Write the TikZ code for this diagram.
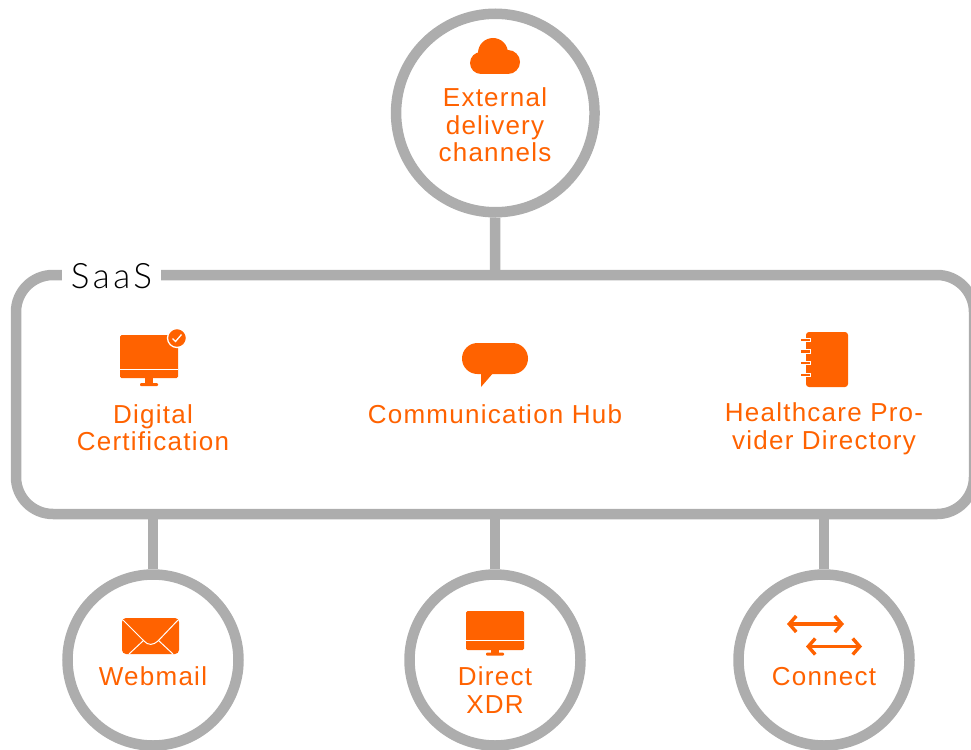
\documentclass[tikz,border=0pt]{standalone}
\usepackage{fontspec}
\setmainfont{Liberation Sans}
\newfontfamily\lightfont[LetterSpace=10]{Lato Light}
\usetikzlibrary{arrows.meta}
\definecolor{ora}{HTML}{FF6200}
\definecolor{gry}{HTML}{ADADAD}
\tikzset{
 ring/.style={circle,draw=gry,line width=10.5pt,fill=white,inner sep=0pt},
 link/.style={draw=gry,line width=10.5pt},
 lab/.style={text=ora,font=\fontsize{26}{27.5}\selectfont\addfontfeature{LetterSpace=4.8},align=center,inner sep=0pt},
 gap/.style={draw=white,line width=1pt},
 dbl/.style={draw=ora,line width=3.2pt,{Straight Barb[length=7pt,width=16pt,line width=3.4pt]}-{Straight Barb[length=7pt,width=16pt,line width=3.4pt]}}
}
\begin{document}
\begin{tikzpicture}[x=1pt,y=-1pt]
\useasboundingbox (0,0) rectangle (971,749);
\clip (0,0) rectangle (971,749);
% coordinates
\coordinate (boxtop) at (495,275);
\coordinate (boxbotL) at (153,514);
\coordinate (boxbotM) at (495,514);
\coordinate (boxbotR) at (824,514);
% rings
\node[ring,minimum size=198.5pt] (ext) at (495.3,113) {};
\node[ring,minimum size=171pt] (web) at (153,660) {};
\node[ring,minimum size=171pt] (xdr) at (495,660) {};
\node[ring,minimum size=171pt] (con) at (824,660) {};
% connectors
\draw[link] (ext) -- (boxtop);
\draw[link] (boxbotL) -- (web);
\draw[link] (boxbotM) -- (xdr);
\draw[link] (boxbotR) -- (con);
% box
\draw[link,rounded corners=37pt] (16,275) rectangle (974,514);
\fill[white] (62,262) rectangle (161,288);
\node[text=black,font=\fontsize{35}{36}\lightfont,inner sep=0pt] (saas) at (111.5,276) {SaaS};
% labels
\node[lab] (t1) at (495,125) {External\\delivery\\channels};
\node[lab] (t2) at (153,427.5) {Digital\\Certification};
\node[lab] (t3) at (495,414.5) {Communication Hub};
\node[lab] (t4) at (824,429) {Healthcare Pro-\\vider Directory};
\node[lab] (t5) at (153,676.5) {Webmail};
\node[lab] (t6) at (495,690) {Direct\\XDR};
\node[lab] (t7) at (824,676.5) {Connect};
% cloud
\fill[ora] (493,53) circle (15);
\fill[ora] (481,63) circle (11);
\fill[ora] (508,62) circle (12);
\fill[ora] (481,55) rectangle (508,74);
% monitor with check
\fill[ora,rounded corners=1.5pt] (120,335) rectangle (178,378);
\draw[gap] (120,369.5) -- (178,369.5);
\fill[ora] (145,378) rectangle (153,383);
\fill[ora,rounded corners=1pt] (140,383) rectangle (158,386);
\fill[ora,draw=white,line width=1.3pt] (177,338) circle (9.5);
\draw[white,line width=1.3pt] (172.5,338.5) -- (175.5,341.5) -- (181.5,334.5);
% speech bubble
\fill[ora,rounded corners=15.5pt] (462,343) rectangle (528,374);
\fill[ora] (481,372) -- (481,387) -- (494,372) -- cycle;
% notebook
\fill[ora,rounded corners=3pt] (806,332) rectangle (848,387);
\foreach \yy in {340,351.5,363,375}{
 \draw[white,line width=4.5pt] (802,\yy) -- (811,\yy);
 \draw[ora,line width=2.4pt] (801,\yy) -- (810,\yy);
}
% envelope
\fill[ora,rounded corners=4pt] (122,618) rectangle (179,654);
\draw[gap] (123,620) -- (144,641) .. controls (148,645.5) and (153,645.5) .. (158,641) -- (178,620);
\draw[gap] (129,654) -- (144,640);
\draw[gap] (173,654) -- (158,640);
% monitor
\fill[ora,rounded corners=1.5pt] (466,611) rectangle (524,650);
\draw[gap] (466,640.5) -- (524,640.5);
\fill[ora] (491,650) rectangle (499,653);
\fill[ora,rounded corners=1pt] (486,652.5) rectangle (504,655.5);
% arrows
\draw[dbl] (787,624) -- (844,624);
\draw[dbl] (806,646.5) -- (862,646.5);
\end{tikzpicture}
\end{document}
